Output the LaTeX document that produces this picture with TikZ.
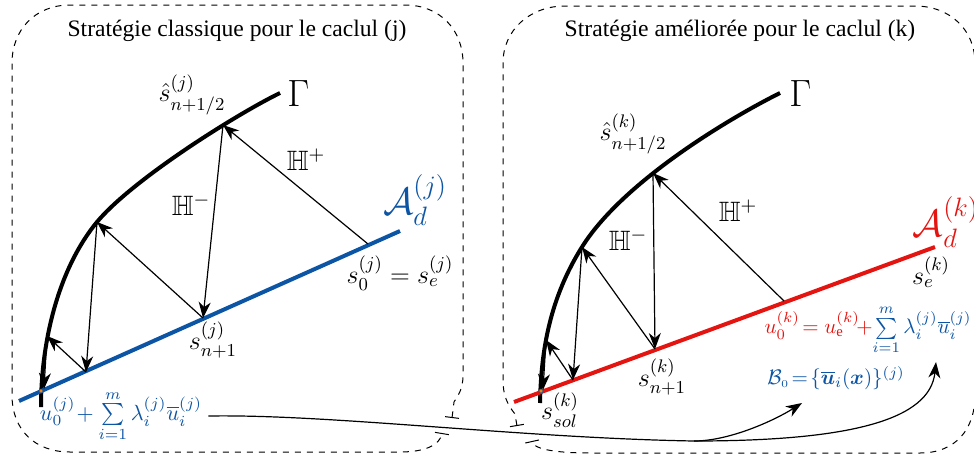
\RequirePackage{fix-cm}
\documentclass[tikz,border=0pt]{standalone}
\usepackage{amsmath,amssymb}
\usepackage{fontspec}
\setmainfont{Liberation Serif}
\usetikzlibrary{arrows.meta, calc}
\definecolor{cB}{RGB}{12,84,164}
\definecolor{cR}{RGB}{228,20,16}

\begin{document}
\begin{tikzpicture}[x=0.5pt, y=-0.5pt, font=\fontsize{13}{15}\selectfont,
    every node/.style={inner sep=1pt},
    iter/.style={-{Stealth[length=8pt, width=6pt, inset=2.5pt]}, line width=0.6pt},
    gamma/.style={line width=2pt},
    adm/.style={line width=2pt},
    frame/.style={dashed, line width=0.5pt, {Bar[width=7pt]}-{Bar[width=7pt]}},
    big/.style={font=\fontsize{19}{22}\selectfont},
    hop/.style={font=\fontsize{14}{16}\selectfont},
    formule/.style={font=\fontsize{11}{13}\selectfont},
    titre/.style={font=\fontsize{11.8}{14}\selectfont, anchor=base}]
\useasboundingbox (0,0) rectangle (974,461);

% cadres
\draw[frame] (452,418) -- (454,402) .. controls (458,395) and (463,390) .. (463,375) -- (463,63)
    .. controls (463,30) and (440,5) .. (405,5) -- (70,5)
    .. controls (35,5) and (12,30) .. (12,63) -- (12,395)
    .. controls (12,430) and (35,452) .. (70,452) -- (400,452)
    .. controls (425,452) and (440,445) .. (442,433);
\draw[frame] (517,426) -- (515,414) .. controls (507,404) and (503,395) .. (503,380) -- (503,63)
    .. controls (503,30) and (530,6) .. (565,6) -- (915,6)
    .. controls (950,6) and (975,30) .. (975,63) -- (975,395)
    .. controls (975,430) and (955,453) .. (920,453) -- (590,453)
    .. controls (560,453) and (534,450) .. (532,441);

\node[titre] (tj) at (237,36) {Stratégie classique pour le caclul (j)};
\node[titre] (tk) at (740,36) {Stratégie améliorée pour le caclul (k)};

% calcul (j)
\coordinate (jA) at (19,401);
\coordinate (jB) at (400,231);
\coordinate (j0) at (368,244);
\coordinate (j1) at (203,318);
\coordinate (j2) at (86,372);
\coordinate (j3) at (44,389);
\coordinate (jx) at (41,391);
\coordinate (jg0) at (280,93);
\coordinate (jg1) at (223,125);
\coordinate (jg2) at (97,222);
\coordinate (jg3) at (47,336);
\coordinate (jg5) at (41,407);

\draw[gamma] (jg5) .. controls (41,340) and (59,268) .. (jg2)
    .. controls (132,180) and (235,115) .. (jg0);
\draw[adm, cB] (jA) -- (jB);
\draw[iter] (j0) -- (jg1);
\draw[iter] (jg1) -- (j1);
\draw[iter] (j1) -- (jg2);
\draw[iter] (jg2) -- (j2);
\draw[iter] (j2) -- (jg3);
\draw[iter] (jg3) -- (j3);
\filldraw[fill=orange, draw=cB, line width=0.3pt] (jx) circle (2);

\node[big, anchor=base west] (Gj) at (285,106) {$\Gamma$};
\node (shj) at (192,95) {$\hat{s}^{(j)}_{n+1/2}$};
\node[hop] (Hpj) at (306,160) {$\mathbb{H}^{+}$};
\node[hop] (Hmj) at (191,205) {$\mathbb{H}^{-}$};
\node[big, cB] (Adj) at (415,200) {$\mathcal{A}_d^{(j)}$};
\node (s0j) at (400,273) {$s_0^{(j)}=s_e^{(j)}$};
\node (s1j) at (213,340) {$s_{n+1}^{(j)}$};
\node[cB, formule] (fj) at (121,416)
    {$u_0^{(j)}\!+\sum\limits_{i=1}^{m}\lambda_i^{(j)}\overline{u}_i^{(j)}$};

% calcul (k)
\coordinate (kA) at (514,402);
\coordinate (kB) at (935,247);
\coordinate (k0) at (784,301);
\coordinate (k1) at (655,349);
\coordinate (k2) at (573,380);
\coordinate (k3) at (543,390);
\coordinate (kx) at (541,391);
\coordinate (kg0) at (780,93);
\coordinate (kg1) at (653,173);
\coordinate (kg2) at (582,247);
\coordinate (kg3) at (546,340);
\coordinate (kg5) at (540,403);

\draw[gamma] (kg5) .. controls (541,350) and (550,298) .. (kg2)
    .. controls (622,183) and (726,120) .. (kg0);
\draw[adm, cR] (kA) -- (kB);
\draw[iter] (k0) -- (kg1);
\draw[iter] (kg1) -- (k1);
\draw[iter] (k1) -- (kg2);
\draw[iter] (kg2) -- (k2);
\draw[iter] (k2) -- (kg3);
\draw[iter] (kg3) -- (k3);
\filldraw[fill=orange, draw=cB, line width=0.3pt] (kx) circle (2);

\node[big, anchor=base west] (Gk) at (787,106) {$\Gamma$};
\node (shk) at (633,134) {$\hat{s}^{(k)}_{n+1/2}$};
\node[hop] (Hpk) at (738,211) {$\mathbb{H}^{+}$};
\node[hop] (Hmk) at (628,240) {$\mathbb{H}^{-}$};
\node[big, cR] (Adk) at (946,222) {$\mathcal{A}_d^{(k)}$};
\node (sek) at (931,272) {$s_e^{(k)}$};
\node (s1k) at (662,377) {$s_{n+1}^{(k)}$};
\node (ssk) at (560,410) {$s_{sol}^{(k)}$};
\node[font=\fontsize{10.5}{12}\selectfont] (fk) at (868,330)
    {\color{cR}$u_0^{(k)}\!=u_{\mathrm{e}}^{(k)}\!+$\color{cB}$\sum\limits_{i=1}^{m}\lambda_i^{(j)}\overline{u}_i^{(j)}$};
\node[cB, font=\fontsize{10.5}{12}\selectfont] (B0) at (836,378)
    {$\mathcal{B}_{\scriptscriptstyle 0}\!=\!\{\overline{\boldsymbol{u}}_i(\boldsymbol{x})\}^{(j)}$};

% transfert de la base
\coordinate (hub) at (694,441);
\coordinate (tB) at (802,403);
\coordinate (tK) at (936,362);
\draw[line width=0.6pt] ([xshift=2pt]fj.east) .. controls (330,414) and (520,438) .. (hub);
\draw[iter] (hub) .. controls (730,441) and (775,420) .. (tB);
\draw[iter] (hub) .. controls (850,441) and (930,420) .. (tK);
\end{tikzpicture}
\end{document}
